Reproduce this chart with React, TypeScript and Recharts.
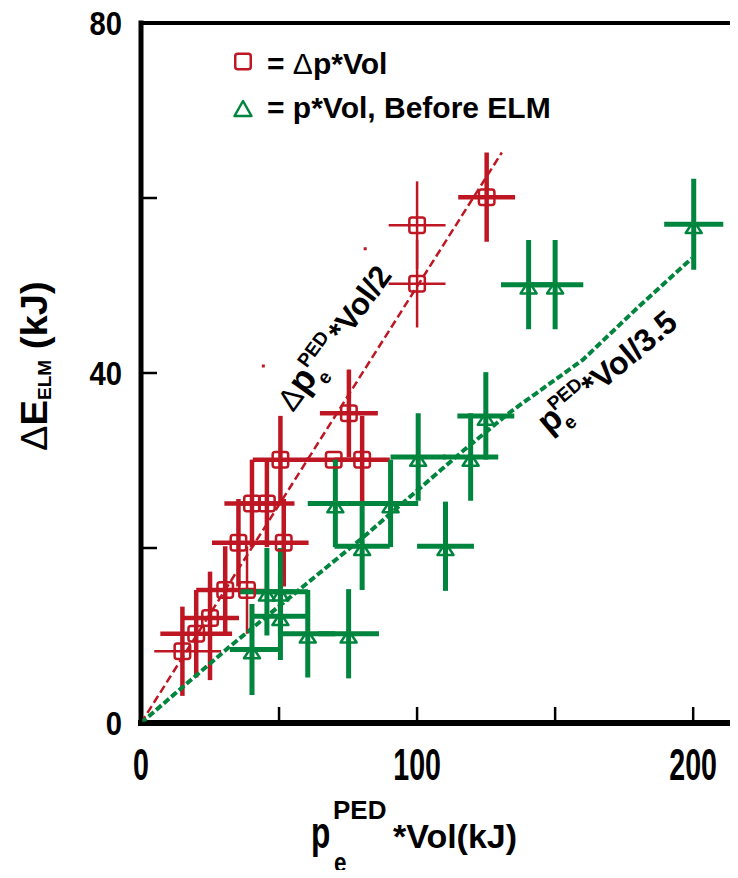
import React from "react";
import { ScatterChart, Scatter, XAxis, YAxis, ErrorBar, ReferenceLine } from "recharts";

const RED = "#BE1622";
const GREEN = "#00853E";
const FONT = "'Liberation Sans', Arial, sans-serif";

type Err = number | [number, number];
interface Pt {
  x: number;
  y: number;
  ex?: Err;
  ey?: Err;
  thinX?: boolean;
  thinY?: boolean;
}

// Δp*Vol points (squares)
const redPoints: Pt[] = [
  { x: 15, y: 8.2, ex: [10.2, 14], ey: 5.1, thinX: true },
  { x: 20, y: 10.2, ex: 13, ey: 5 },
  { x: 25, y: 12, ex: 10.5, ey: [7.1, 5.3] },
  { x: 30.5, y: 15.2, ex: 10.5, ey: 5 },
  { x: 38.4, y: 15.2, ex: 8, ey: 5, thinX: true, thinY: true },
  { x: 35.3, y: 20.6, ex: 9.6, ey: 5 },
  { x: 51.7, y: 20.6, ex: 9, ey: 5 },
  { x: 40.2, y: 25.1, ex: 10, ey: 5 },
  { x: 45.6, y: 25.1, ex: 10, ey: 5 },
  { x: 50.5, y: 30.1, ex: 10, ey: 5 },
  { x: 69.8, y: 30.1, ex: 10 },
  { x: 80.1, y: 30.1, ex: 10, ey: 5 },
  { x: 75.3, y: 35.4, ex: 10.5, ey: 5 },
  { x: 100, y: 56.9, ex: 10.3, ey: 5, thinX: true, thinY: true },
  { x: 100, y: 50.2, ex: 10.3, ey: 5, thinX: true, thinY: true },
  { x: 125.2, y: 60.1, ex: 10.3, ey: 5.1 },
];

// p*Vol before ELM points (triangles)
const greenPoints: Pt[] = [
  { x: 40.2, y: 8.4, ex: [8, 10.3], ey: 5.2 },
  { x: 45.6, y: 15, ex: 10.3, ey: 5 },
  { x: 50.5, y: 15, ex: 10, ey: 5 },
  { x: 50.5, y: 12.2, ex: 10, ey: 5 },
  { x: 60.4, y: 10.2, ex: 10, ey: 5 },
  { x: 75.2, y: 10.2, ex: 11, ey: 5.1 },
  { x: 70.4, y: 25.1, ex: 10, ey: 5 },
  { x: 90.4, y: 25.1, ex: 10, ey: 5 },
  { x: 80.1, y: 20.2, ex: 10, ey: 5 },
  { x: 110.3, y: 20.2, ex: 10.3, ey: 5.1 },
  { x: 100.4, y: 30.4, ex: 10, ey: 5 },
  { x: 119.4, y: 30.4, ex: 10, ey: 5 },
  { x: 124.9, y: 35.1, ex: 10.3, ey: 5 },
  { x: 140.4, y: 50.1, ex: 10, ey: 5.1 },
  { x: 150, y: 50.1, ex: 10.2, ey: 5.1 },
  { x: 200.2, y: 57, ex: 10.7, ey: 5.2 },
  { x: 225, y: 60.1, ex: 10, ey: 5 },
];

const redSpecks = [
  { x: 81.2, y: 54.2 },
  { x: 44.3, y: 40.8 },
];

// Δp*Vol/2 fit
const redFit = [
  { x: 0, y: 0 },
  { x: 130.7, y: 65.2 },
];

// p*Vol/3.5 fit
const greenFit = [
  { x: 0, y: 0 },
  { x: 32, y: 8.7 },
  { x: 51, y: 13.6 },
  { x: 80, y: 21.1 },
  { x: 117, y: 31.2 },
  { x: 134, y: 35.6 },
  { x: 160, y: 41.5 },
  { x: 180, y: 47.5 },
  { x: 199.5, y: 53.1 },
];

const xTicks = [0, 50, 100, 150, 200];
const yTicks = [0, 20, 40, 60, 80];

const split = (pts: Pt[]) =>
  pts.map((p) => ({
    x: p.x,
    y: p.y,
    exThick: p.thinX ? undefined : p.ex,
    exThin: p.thinX ? p.ex : undefined,
    eyThick: p.thinY ? undefined : p.ey,
    eyThin: p.thinY ? p.ey : undefined,
  }));

const redData = split(redPoints);
const greenData = split(greenPoints);

const Square = (props: any) => {
  const { cx, cy } = props;
  return (
    <rect x={cx - 7.75} y={cy - 7.75} width={15.5} height={15.5} rx={2.5}
      fill="none" stroke={RED} strokeWidth={2.5} />
  );
};

const Triangle = (props: any) => {
  const { cx, cy } = props;
  return (
    <path d={`M${cx},${cy - 3.5} L${cx + 8},${cy + 8.75} L${cx - 8},${cy + 8.75} Z`}
      fill="none" stroke={GREEN} strokeWidth={2.5} strokeLinejoin="round" />
  );
};

const Speck = (props: any) => {
  const { cx, cy } = props;
  return <rect x={cx - 1.5} y={cy - 1.5} width={3} height={3} fill={RED} />;
};

const Nothing = () => <g />;

const YTick = (props: any) => {
  const { x, y, payload } = props;
  const v = payload.value;
  return (
    <g>
      <line x1={x} x2={x + 16} y1={y} y2={y} stroke="#000" strokeWidth={2.5} />
      {v % 40 === 0 && (
        <text transform={`translate(${x - 19},${y + 12}) scale(0.86,1)`} textAnchor="end"
          fontSize={34} fontWeight="bold" fontFamily={FONT} fill="#000">
          {v}
        </text>
      )}
    </g>
  );
};

const XTick = (props: any) => {
  const { x, y, payload } = props;
  const v = payload.value;
  return (
    <g>
      <line x1={x} x2={x} y1={y} y2={y - 16} stroke="#000" strokeWidth={2.5} />
      {v % 100 === 0 && (
        <text transform={`translate(${x},780) scale(0.65,1)`} textAnchor="middle"
          fontSize={44} fontWeight="bold" fontFamily={FONT} fill="#000">
          {v}
        </text>
      )}
    </g>
  );
};

export default function App() {
  return (
    <div style={{ margin: -8, width: 738, height: 878, overflow: "hidden", position: "relative", background: "#fff" }}>
      <ScatterChart width={776} height={878} margin={{ top: 23, right: 0, bottom: 0, left: 0 }}>
        <XAxis type="number" dataKey="x" domain={[0, 230]} allowDataOverflow ticks={xTicks} interval={0}
          height={155} tickSize={0} tickMargin={0} tickLine={false}
          axisLine={{ stroke: "#000", strokeWidth: 6, strokeLinecap: "square" }} tick={(p: any) => <XTick {...p} />} />
        <YAxis type="number" dataKey="y" domain={[0, 80]} allowDataOverflow ticks={yTicks} interval={0}
          width={141} tickSize={0} tickMargin={0} tickLine={false}
          axisLine={{ stroke: "#000", strokeWidth: 5, strokeLinecap: "square" }} tick={(p: any) => <YTick {...p} />} />
        <ReferenceLine y={80} stroke="#000" strokeWidth={4} />

        <Scatter data={redFit} shape={Nothing} isAnimationActive={false}
          line={{ stroke: RED, strokeWidth: 2.5, strokeDasharray: "8 4" }} />
        <Scatter data={greenFit} shape={Nothing} isAnimationActive={false}
          line={{ stroke: GREEN, strokeWidth: 4, strokeDasharray: "7 3" }} />

        <Scatter data={redData} shape={Square} isAnimationActive={false}>
          <ErrorBar dataKey="exThick" direction="x" width={0} stroke={RED} strokeWidth={4.5} />
          <ErrorBar dataKey="exThin" direction="x" width={0} stroke={RED} strokeWidth={2.5} />
          <ErrorBar dataKey="eyThick" direction="y" width={0} stroke={RED} strokeWidth={4.5} />
          <ErrorBar dataKey="eyThin" direction="y" width={0} stroke={RED} strokeWidth={2.5} />
        </Scatter>
        <Scatter data={greenData} shape={Triangle} isAnimationActive={false}>
          <ErrorBar dataKey="exThick" direction="x" width={0} stroke={GREEN} strokeWidth={5} />
          <ErrorBar dataKey="exThin" direction="x" width={0} stroke={GREEN} strokeWidth={2.5} />
          <ErrorBar dataKey="eyThick" direction="y" width={0} stroke={GREEN} strokeWidth={5} />
          <ErrorBar dataKey="eyThin" direction="y" width={0} stroke={GREEN} strokeWidth={2.5} />
        </Scatter>
        <Scatter data={redSpecks} shape={Speck} isAnimationActive={false} />
      </ScatterChart>

      <svg width={738} height={878} style={{ position: "absolute", left: 0, top: 0, pointerEvents: "none" }}
        fontFamily={FONT} fontWeight="bold" fill="#000">
        {/* legend */}
        <rect x={235.25} y={53.75} width={15.5} height={15.5} rx={2.5} fill="none" stroke={RED} strokeWidth={2.5} />
        <text x={267} y={74} fontSize={30}>= <tspan fontWeight="normal">Δ</tspan>p*Vol</text>
        <path d="M243,101 L251.5,116 L234.5,116 Z" fill="none" stroke={GREEN} strokeWidth={2.5} strokeLinejoin="round" />
        <text x={267} y={118} fontSize={30}>= p*Vol, Before ELM</text>

        {/* y axis title */}
        <text transform="translate(47,451) rotate(-90) scale(1.06,1)" fontSize={36}>
          <tspan fontWeight="normal">Δ</tspan>E<tspan fontSize={18} dy={4}>ELM</tspan>
          <tspan dy={-4}> (kJ)</tspan>
        </text>

        {/* x axis title */}
        <text transform="translate(311,848) scale(0.72,1)" fontSize={44}>p</text>
        <text x={333} y={819} fontSize={26}>PED</text>
        <text transform="translate(334,872) scale(0.8,1)" fontSize={28}>e</text>
        <text x={393} y={848} fontSize={34}>*Vol(kJ)</text>

        {/* fit annotations */}
        <g transform="translate(293,413) rotate(-54)">
          <text x={0} y={0} fontSize={31} fontWeight="normal">Δ</text>
          <text x={21} y={0} fontSize={36}>p</text>
          <text x={44} y={-15} fontSize={19}>PED</text>
          <text x={42} y={11} fontSize={19}>e</text>
          <text x={86} y={0} fontSize={31}>*Vol/2</text>
        </g>
        <g transform="translate(549,435) rotate(-40)">
          <text x={0} y={0} fontSize={34}>p</text>
          <text x={19} y={-15} fontSize={19}>PED</text>
          <text x={19} y={10} fontSize={19}>e</text>
          <text x={57} y={0} fontSize={32}>*Vol/3.5</text>
        </g>
      </svg>
    </div>
  );
}
